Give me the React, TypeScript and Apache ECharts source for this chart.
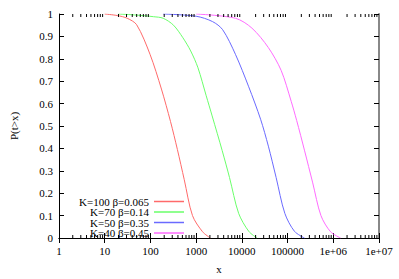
import React, { useEffect, useRef } from 'react';
import * as echarts from 'echarts';

const seriesNames = ['K=100 β=0.065', 'K=70 β=0.14', 'K=50 β=0.35', 'K=40 β=0.45'];
const seriesColors = ['#ff6a6a', '#6aff6a', '#6a6aff', '#ff6aff'];

const redX = [10, 19, 31, 50, 98, 174, 275, 389, 550, 832, 1380, 2040];
const redY = [1, 0.993, 0.981, 0.952, 0.82, 0.665, 0.52, 0.395, 0.26, 0.1, 0.028, 0];

const greenX = [20, 51, 117, 190, 320, 513, 760, 1096, 1660, 2240, 3715, 5370, 8510, 14125, 21380];
const greenY = [1, 0.995, 0.988, 0.981, 0.95, 0.894, 0.835, 0.76, 0.635, 0.545, 0.39, 0.27, 0.11, 0.03, 0];

const blueX = [190, 1000, 2290, 3800, 7240, 14125, 25700, 38000, 56200, 87100, 141250, 234400];
const blueY = [1, 0.99, 0.966, 0.93, 0.82, 0.675, 0.53, 0.41, 0.27, 0.11, 0.03, 0];

const magentaX = [1000, 7240, 16600, 38000, 72400, 120000, 158000, 234000, 355000, 537000, 871000, 1445000];
const magentaY = [1, 0.981, 0.937, 0.85, 0.748, 0.61, 0.525, 0.392, 0.246, 0.1, 0.028, 0];

const xTickLabels: Record<number, string> = {
  1: '1', 10: '10', 100: '100', 1000: '1000', 10000: '10000', 100000: '100000', 1000000: '1e+06', 10000000: '1e+07',
};

const decades = [1, 10, 100, 1000, 10000, 100000, 1000000];
const minorMultiples = [2, 3, 4, 5, 6, 7, 8, 9];

const FONT = 'Liberation Serif';

export default function App() {
  const ref = useRef<HTMLDivElement>(null);
  useEffect(() => {
    if (!ref.current) return;
    const chart = echarts.init(ref.current, undefined, { renderer: 'svg' });
    const zip = (xs: number[], ys: number[]) => xs.map((x, i) => [x, ys[i]]);
    const allData = [zip(redX, redY), zip(greenX, greenY), zip(blueX, blueY), zip(magentaX, magentaY)];
    const minorTicks: number[][] = [];
    decades.forEach((d) => minorMultiples.forEach((m) => minorTicks.push([d * m, 0])));

    const commonX = {
      type: 'log' as const,
      logBase: 10,
      min: 1,
      max: 10000000,
      splitLine: { show: false },
      minorTick: { show: false },
    };
    const option: any = {
      animation: false,
      textStyle: { fontFamily: FONT },
      grid: { left: 54, right: 20, top: 14, bottom: 36 },
      legend: {
        orient: 'vertical',
        right: 215,
        top: 196,
        padding: 0,
        align: 'right',
        itemWidth: 30,
        itemHeight: 1.5,
        itemGap: -0.5,
        selectedMode: false,
        data: seriesNames.map((n, i) => ({ name: n, icon: 'rect', itemStyle: { color: seriesColors[i], borderWidth: 0 } })),
        textStyle: { fontSize: 11, fontFamily: FONT, color: '#000', lineHeight: 11 },
      },
      xAxis: [
        {
          ...commonX,
          position: 'bottom',
          name: 'x',
          nameLocation: 'middle',
          nameGap: 25,
          nameTextStyle: { fontSize: 11, fontFamily: FONT, color: '#000' },
          axisLine: { show: true, lineStyle: { color: '#000', width: 1 } },
          axisTick: { show: true, inside: true, length: 5, lineStyle: { color: '#000' } },
          axisLabel: {
            margin: 7,
            fontSize: 11,
            fontFamily: FONT,
            color: '#000',
            formatter: (v: number) => xTickLabels[Math.round(v)] ?? String(v),
          },
        },
        {
          ...commonX,
          position: 'top',
          axisLine: { show: true, lineStyle: { color: '#000', width: 1 } },
          axisTick: { show: true, inside: true, length: 5, lineStyle: { color: '#000' } },
          axisLabel: { show: false },
        },
      ],
      yAxis: [
        {
          type: 'value',
          min: 0,
          max: 1,
          interval: 0.1,
          position: 'left',
          name: 'P(t>x)',
          nameLocation: 'middle',
          nameGap: 40,
          nameRotate: 90,
          nameTextStyle: { fontSize: 11, fontFamily: FONT, color: '#000' },
          splitLine: { show: false },
          axisLine: { show: true, lineStyle: { color: '#000', width: 1 } },
          axisTick: { show: true, inside: true, length: 5, lineStyle: { color: '#000' } },
          axisLabel: {
            margin: 6,
            fontSize: 11,
            fontFamily: FONT,
            color: '#000',
            formatter: (v: number) => String(Math.round(v * 10) / 10),
          },
        },
        {
          type: 'value',
          min: 0,
          max: 1,
          interval: 0.1,
          position: 'right',
          splitLine: { show: false },
          axisLine: { show: true, lineStyle: { color: '#888', width: 2 } },
          axisTick: { show: true, inside: true, length: 5, lineStyle: { color: '#000' } },
          axisLabel: { show: false },
        },
      ],
      series: [
        ...allData.map((d, i) => ({
          name: seriesNames[i],
          type: 'line',
          data: d,
          xAxisIndex: 0,
          yAxisIndex: 0,
          symbol: 'none',
          smooth: 0.3,
          color: seriesColors[i],
          itemStyle: { color: seriesColors[i] },
          lineStyle: { width: 1, color: seriesColors[i] },
          z: 3,
        })),
        {
          type: 'custom',
          name: 'minorTicks',
          xAxisIndex: 0,
          yAxisIndex: 0,
          data: minorTicks,
          silent: true,
          z: 5,
          renderItem: (params: any, api: any) => {
            const v = api.value(0);
            const pb = api.coord([v, 0]);
            const pt = api.coord([v, 1]);
            const style = { stroke: '#000', lineWidth: 1 };
            return {
              type: 'group',
              children: [
                { type: 'line', shape: { x1: pb[0], y1: pb[1], x2: pb[0], y2: pb[1] - 3 }, style },
                { type: 'line', shape: { x1: pt[0], y1: pt[1], x2: pt[0], y2: pt[1] + 3 }, style },
              ],
            };
          },
        },
      ],
    };
    chart.setOption(option);
    return () => chart.dispose();
  }, []);
  return <div ref={ref} style={{ position: 'fixed', left: 0, top: 0, width: 399, height: 279, background: '#fff' }} />;
}
